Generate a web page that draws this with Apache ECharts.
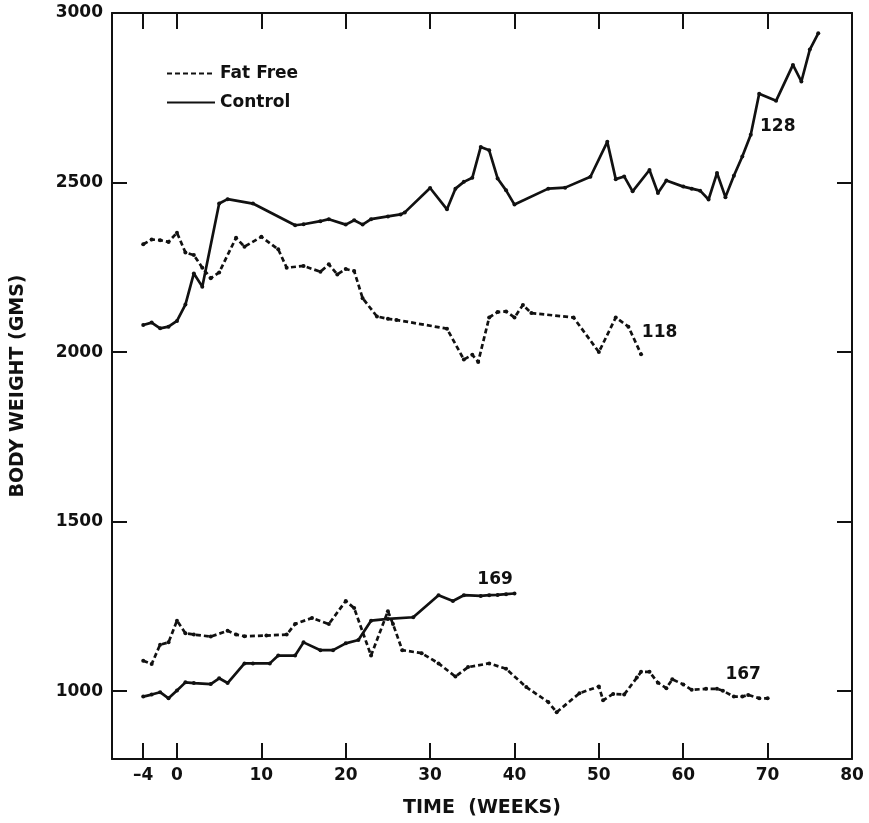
<!DOCTYPE html>
<html>
<head>
<meta charset="utf-8">
<script src="https://cdn.jsdelivr.net/npm/echarts@6/dist/echarts.min.js"></script>
<style>html,body{margin:0;padding:0;background:#fff}#c{width:869px;height:823px}</style>
</head>
<body>
<div id="c"></div>
<script>
// ---- data (week, body weight in g) ----
const xTicks = [-4, 0, 10, 20, 30, 40, 50, 60, 70, 80];
const yTicks = [1000, 1500, 2000, 2500, 3000];

const control128 = [[-4,2080],[-3,2087],[-2,2070],[-1,2075],[0,2092],[1,2140],[2,2232],[3,2193],[5,2438],[6,2451],[9,2438],[14,2374],[15,2377],[17,2386],[18,2392],[20,2376],[21,2389],[22,2376],[23,2392],[25,2400],[26.5,2406],[27,2412],[30,2484],[32,2421],[33,2482],[34,2502],[35,2514],[36,2605],[37,2595],[38,2512],[39,2477],[40,2435],[44,2482],[46,2485],[49,2517],[51,2620],[52,2510],[53,2518],[54,2474],[56,2537],[57,2469],[58,2506],[60,2488],[61,2482],[62,2476],[63,2450],[64,2528],[65,2457],[66,2520],[67,2577],[68,2641],[69,2762],[71,2741],[73,2847],[74,2798],[75,2892],[76,2940]];

const fatFree118 = [[-4,2318],[-3,2332],[-2,2330],[-1,2325],[0,2352],[1,2294],[2,2286],[3,2249],[4,2218],[5,2235],[7,2337],[8,2311],[10,2340],[12,2303],[13,2249],[15,2254],[17,2237],[18,2259],[19,2229],[20,2245],[21,2239],[22,2159],[23.7,2105],[25,2098],[26,2095],[32,2069],[34,1978],[35,1992],[35.7,1971],[37,2102],[38,2118],[39,2120],[40,2102],[41,2139],[42,2115],[47,2102],[50,2000],[52,2102],[53.5,2075],[55,1994]];

const control169 = [[-4,984],[-3,990],[-2,997],[-1,979],[0,1002],[1,1026],[2,1024],[4,1021],[5,1038],[6,1024],[8,1082],[9,1082],[11,1082],[12,1105],[14,1105],[15,1144],[17,1121],[18.5,1121],[20,1141],[21.5,1151],[23,1208],[25,1213],[28,1218],[31,1283],[32.7,1266],[34,1283],[36,1281],[37,1283],[38,1284],[39,1286],[40,1288]];

const fatFree167 = [[-4,1090],[-3,1080],[-2,1137],[-1,1144],[0,1208],[1,1171],[2,1167],[4,1161],[6,1178],[7,1167],[8,1162],[10.6,1164],[13,1167],[14,1198],[16,1216],[18,1198],[20,1266],[21,1245],[23,1105],[25,1236],[25.6,1198],[26.7,1121],[29,1112],[31,1082],[33,1043],[34.5,1071],[37,1082],[39,1066],[41.4,1012],[44,968],[45,938],[47.7,994],[50,1014],[50.5,973],[51.7,992],[53,990],[54.5,1040],[55,1057],[56,1057],[57,1025],[58,1009],[58.7,1035],[60,1020],[61,1004],[62.7,1007],[64,1007],[64.7,1001],[66,984],[67,984],[67.7,989],[69,979],[70,979]];

const animalLabels = [[71.2,2664,'128'],[57.2,2059,'118'],[37.7,1329,'169'],[67.1,1050,'167']];

// ---- chart ----
const FONT = 'DejaVu Sans';
const chart = echarts.init(document.getElementById('c'), null, {renderer:'canvas'});
const solid = {color:'#111', width:2.7, type:'solid'};
const dashed = {color:'#111', width:2.7, type:[5,3]};
function lineSeries(name, data, ls){
  return {name, type:'line', data, xAxisIndex:0, yAxisIndex:0,
    symbol:'circle', symbolSize:4, showSymbol:true,
    itemStyle:{color:'#111'}, lineStyle:ls, animation:false, z:3};
}
const axLine = {show:true, onZero:false, lineStyle:{color:'#111',width:2}};
const tickStyle = {color:'#111',width:2};
const txt = {fontFamily:FONT, fontWeight:'bold', fontSize:17, color:'#111'};
const titleTxt = {fontFamily:FONT, fontWeight:'bold', fontSize:19, color:'#111'};
chart.setOption({
  backgroundColor:'#fff',
  animation:false,
  grid:{left:112, right:17, top:13, bottom:63},
  legend:{data:['Fat Free','Control'], orient:'vertical', left:161, top:60,
    itemWidth:48, itemHeight:14, itemGap:12,
    itemStyle:{opacity:0},
    textStyle:txt},
  xAxis:[
    {type:'value', min:-7.7, max:80, position:'bottom', axisLine:axLine, splitLine:{show:false},
      name:'TIME  (WEEKS)', nameLocation:'middle', nameGap:40, nameTextStyle:titleTxt,
      axisTick:{show:true, inside:true, length:16, lineStyle:tickStyle, customValues:xTicks},
      axisLabel:Object.assign({show:true, customValues:xTicks, margin:8,
        formatter:v=>v<0?'\u2013'+Math.abs(v):String(v)}, txt)},
    {type:'value', min:-7.7, max:80, position:'top', axisLine:axLine, splitLine:{show:false},
      axisTick:{show:true, inside:true, length:16, lineStyle:tickStyle, customValues:xTicks.slice(0,-1)},
      axisLabel:{show:false}}
  ],
  yAxis:[
    {type:'value', min:800, max:3000, position:'left', axisLine:axLine, splitLine:{show:false},
      name:'BODY WEIGHT (GMS)', nameLocation:'middle', nameGap:84, nameRotate:90, nameTextStyle:titleTxt,
      axisTick:{show:true, inside:true, length:15, lineStyle:tickStyle, customValues:yTicks},
      axisLabel:Object.assign({show:true, customValues:yTicks, margin:9, formatter:v=>String(v)}, txt)},
    {type:'value', min:800, max:3000, position:'right', axisLine:axLine, splitLine:{show:false},
      axisTick:{show:true, inside:true, length:15, lineStyle:tickStyle, customValues:yTicks},
      axisLabel:{show:false}}
  ],
  series:[
    lineSeries('Fat Free', fatFree118, dashed),
    lineSeries('Control', control128, solid),
    lineSeries('Control', control169, solid),
    lineSeries('Fat Free', fatFree167, dashed),
    {name:'labels', type:'scatter', symbolSize:0, animation:false,
      itemStyle:{opacity:1, color:'#111'},
      data:animalLabels.map(d=>({value:[d[0],d[1]], name:d[2]})),
      label:Object.assign({show:true, position:'inside', formatter:p=>p.name, opacity:1}, txt)}
  ]
});
</script>
</body>
</html>
